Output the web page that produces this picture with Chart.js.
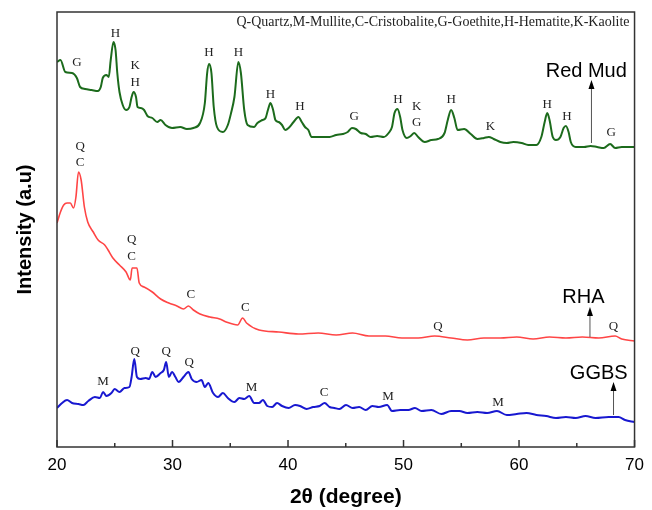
<!DOCTYPE html>
<html>
<head>
<meta charset="utf-8">
<script src="https://cdn.jsdelivr.net/npm/chart.js@4.4.1/dist/chart.umd.min.js"></script>
<style>
  body { margin: 0; background: #fff; }
</style>
</head>
<body>
<canvas id="xrdChart" width="652" height="510"></canvas>
<script>
// 2-theta positions and intensities (a.u., stacked offsets as in the figure)
const redMudTheta = [20.00,20.30,20.72,21.30,21.72,22.00,22.43,23.00,23.54,23.79,23.96,24.28,24.48,24.65,24.89,25.07,25.22,25.41,25.69,25.98,
  26.27,26.46,26.63,26.84,26.97,27.26,27.54,27.83,28.25,28.68,28.97,29.39,29.96,30.67,31.24,31.81,32.38,32.80,33.00,33.17,
  33.37,33.57,33.85,34.36,34.79,35.07,35.36,35.70,35.92,36.21,36.50,37.07,37.35,37.78,38.06,38.26,38.48,38.71,38.91,39.20,
  39.48,39.76,40.05,40.48,40.90,41.19,41.47,41.76,42.04,42.46,43.04,43.60,44.17,44.74,45.17,45.53,45.87,46.30,46.73,47.15,
  47.72,48.29,48.71,49.00,49.22,49.48,49.71,49.91,50.28,50.62,50.93,51.27,51.84,52.41,52.98,53.55,53.83,54.12,54.40,54.68,
  55.25,55.82,56.39,56.96,57.38,57.81,58.38,58.94,59.51,60.22,60.79,61.50,61.93,62.22,62.44,62.64,62.92,63.20,63.58,63.86,
  64.06,64.29,64.48,64.91,65.63,66.19,66.76,67.33,67.89,68.32,68.89,69.60,70.00];
const redMudInt = [385,387,375,374,369,360,358,357,356,360,369,372,370,387,405,397,374,355,342,337,
  340,350,355,350,340,339,337,331,329,325,327,322,319,320,318,319,324,344,374,383,
  374,340,320,315,322,334,350,385,374,337,322,320,324,327,329,337,344,337,327,325,
  322,317,319,325,330,325,320,317,310,310,310,310,312,313,315,319,318,314,313,310,
  311,310,314,320,334,338,330,317,309,311,314,310,305,307,308,314,327,337,329,317,
  318,313,308,309,310,308,305,304,305,304,302,302,310,325,334,327,310,307,310,319,
  321,315,305,300,300,301,300,299,303,299,300,300,300];

const rhaTheta = [20.00,20.30,20.58,20.87,21.15,21.43,21.64,21.86,22.09,22.37,22.66,23.14,23.56,24.13,24.42,24.84,25.41,25.98,26.35,26.50,
  26.69,26.92,27.12,27.54,28.25,28.97,29.68,30.38,30.95,31.38,31.81,32.38,33.23,34.08,34.65,35.64,36.07,36.41,37.49,39.20,
  40.90,42.61,44.17,45.59,47.01,48.43,49.86,51.27,52.69,54.12,55.53,56.96,58.38,59.80,61.22,62.64,64.06,65.48,66.91,68.32,
  68.89,70.00];
const rhaInt = [224,235,242,244,244,239,250,275,267,240,225,215,207,202,197,189,182,175,167,179,
  179,179,164,160,155,148,144,141,138,141,137,133,130,128,125,122,129,124,117,115,
  113,114,112,114,111,111,109,109,111,109,107,109,109,110,108,110,109,110,109,111,
  108,106];

const ggbsTheta = [20.00,20.44,20.87,21.30,21.86,22.28,22.71,23.28,23.71,23.99,24.28,24.71,24.99,25.41,25.84,26.27,26.46,26.69,26.92,27.20,
  27.69,27.97,28.25,28.54,28.97,29.25,29.45,29.68,29.96,30.25,30.53,30.95,31.24,31.38,31.66,32.09,32.51,32.80,33.09,33.51,
  33.94,34.36,34.79,35.36,35.79,36.21,36.64,37.07,37.49,37.83,38.20,38.63,39.05,39.48,40.05,40.61,41.04,41.61,42.18,42.74,
  43.17,43.60,44.02,44.45,45.02,45.59,46.16,46.73,47.30,47.86,48.58,49.00,49.71,50.42,50.99,51.56,52.41,53.27,54.12,54.83,
  55.53,56.39,57.24,58.09,58.94,59.80,60.65,61.50,62.35,63.20,64.06,64.91,65.76,66.62,67.76,68.61,69.18,70.00];
const ggbsInt = [39,44,47,44,43,42,46,50,49,55,51,54,58,55,59,60,70,88,70,68,
  69,68,75,70,74,77,85,70,75,70,65,70,74,75,68,65,67,60,64,54,
  50,54,49,45,49,48,51,44,44,47,41,40,44,41,39,42,41,38,40,41,
  44,40,39,38,42,39,40,37,41,40,42,36,37,37,39,36,37,33,36,36,
  34,35,34,36,32,33,34,32,31,29,30,29,31,29,30,30,27,25];

// phase marks: [letter, 2theta, intensity]
const redMudPeaks = [['G',21.72,384],['H',25.05,413],['K',26.78,381],['H',26.78,364],['H',33.15,394],['H',35.70,394],
  ['H',38.48,352],['H',41.04,340],['G',45.73,330],['H',49.51,347],['K',51.13,340],['G',51.13,324],['H',54.12,347],
  ['K',57.53,320],['H',62.44,342],['H',64.14,330],['G',67.98,314]];
const rhaPeaks = [['Q',22.00,300],['C',22.00,284],['Q',26.46,207],['C',26.46,190],['C',31.58,152],['C',36.30,139],
  ['Q',52.98,120],['Q',68.18,120]];
const ggbsPeaks = [['M',23.99,65],['Q',26.78,95],['Q',29.45,95],['Q',31.44,84],['M',36.84,59],['C',43.12,54],
  ['M',48.66,50],['M',58.18,44]];

// sample names: [name, 2theta, intensity of text, arrow from, arrow to, arrow 2theta]
const sampleNames = [['Red Mud',65.82,376,304,367,66.27],['RHA',65.57,150,110,140,66.14],['GGBS',66.90,74,32,65,68.18]];

const phaseKey = 'Q-Quartz,M-Mullite,C-Cristobalite,G-Goethite,H-Hematite,K-Kaolite';
const majorTicks = [20,30,40,50,60,70];
const minorTicks = [25,35,45,55,65];

const sans = "Arial, 'Liberation Sans', sans-serif";
const serif = "'Times New Roman', 'Liberation Serif', serif";

const toPts = (xs, ys) => xs.map((v, i) => ({ x: v, y: ys[i] }));

const decor = {
  id: 'decor',
  afterDatasetsDraw(chart) {
    const { ctx, chartArea: a, scales: { x, y } } = chart;
    ctx.save();

    // frame
    ctx.strokeStyle = '#333';
    ctx.lineWidth = 1.5;
    ctx.strokeRect(a.left, a.top, a.right - a.left, a.bottom - a.top);

    // inward ticks on the bottom axis
    majorTicks.concat(minorTicks).forEach(v => {
      const px = x.getPixelForValue(v);
      const len = majorTicks.includes(v) ? 7 : 4;
      ctx.beginPath();
      ctx.moveTo(px, a.bottom);
      ctx.lineTo(px, a.bottom - len);
      ctx.stroke();
    });

    // phase letters
    ctx.fillStyle = '#222';
    ctx.font = '13px ' + serif;
    ctx.textAlign = 'center';
    ctx.textBaseline = 'middle';
    redMudPeaks.concat(rhaPeaks, ggbsPeaks).forEach(p => {
      ctx.fillText(p[0], x.getPixelForValue(p[1]), y.getPixelForValue(p[2]));
    });

    // key text
    ctx.font = '14px ' + serif;
    ctx.textAlign = 'right';
    ctx.fillText(phaseKey, a.right - 5, a.top + 10);

    // sample names with arrows
    sampleNames.forEach(s => {
      ctx.fillStyle = '#000';
      ctx.font = '20px ' + sans;
      ctx.textAlign = 'center';
      ctx.fillText(s[0], x.getPixelForValue(s[1]), y.getPixelForValue(s[2]));
      const ax = x.getPixelForValue(s[5]);
      const y0 = y.getPixelForValue(s[3]);
      const y1 = y.getPixelForValue(s[4]);
      ctx.strokeStyle = '#555';
      ctx.lineWidth = 1;
      ctx.beginPath();
      ctx.moveTo(ax, y0);
      ctx.lineTo(ax, y1 + 6);
      ctx.stroke();
      ctx.beginPath();
      ctx.moveTo(ax, y1);
      ctx.lineTo(ax - 3, y1 + 9);
      ctx.lineTo(ax + 3, y1 + 9);
      ctx.closePath();
      ctx.fill();
    });
    ctx.restore();
  }
};

new Chart(document.getElementById('xrdChart'), {
  type: 'line',
  data: {
    datasets: [
      { label: 'Red Mud', data: toPts(redMudTheta, redMudInt), borderColor: '#1c6b1c', borderWidth: 2 },
      { label: 'RHA', data: toPts(rhaTheta, rhaInt), borderColor: '#ff4545', borderWidth: 1.6 },
      { label: 'GGBS', data: toPts(ggbsTheta, ggbsInt), borderColor: '#1818d0', borderWidth: 2 }
    ]
  },
  options: {
    responsive: false,
    animation: false,
    layout: { padding: { top: 12, right: 9, left: 0, bottom: 0 } },
    elements: { point: { radius: 0 }, line: { cubicInterpolationMode: 'monotone' } },
    plugins: { legend: { display: false }, tooltip: { enabled: false } },
    scales: {
      x: {
        type: 'linear', min: 20, max: 70,
        ticks: { stepSize: 10, color: '#000', padding: 8, font: { size: 17, family: sans } },
        grid: { display: false, drawTicks: false },
        border: { display: false },
        title: { display: true, text: '2θ (degree)', color: '#000', padding: { top: 0, bottom: 0 },
                 font: { size: 21, weight: 'bold', family: sans } },
        afterFit: s => { s.height = 63; }
      },
      y: {
        min: 0, max: 435,
        ticks: { display: false },
        grid: { display: false, drawTicks: false },
        border: { display: false },
        title: { display: true, text: 'Intensity (a.u)', color: '#000', padding: { top: 13, bottom: 0 },
                 font: { size: 20, weight: 'bold', family: sans } },
        afterFit: s => { s.width = 57; }
      }
    }
  },
  plugins: [decor]
});
</script>
</body>
</html>
